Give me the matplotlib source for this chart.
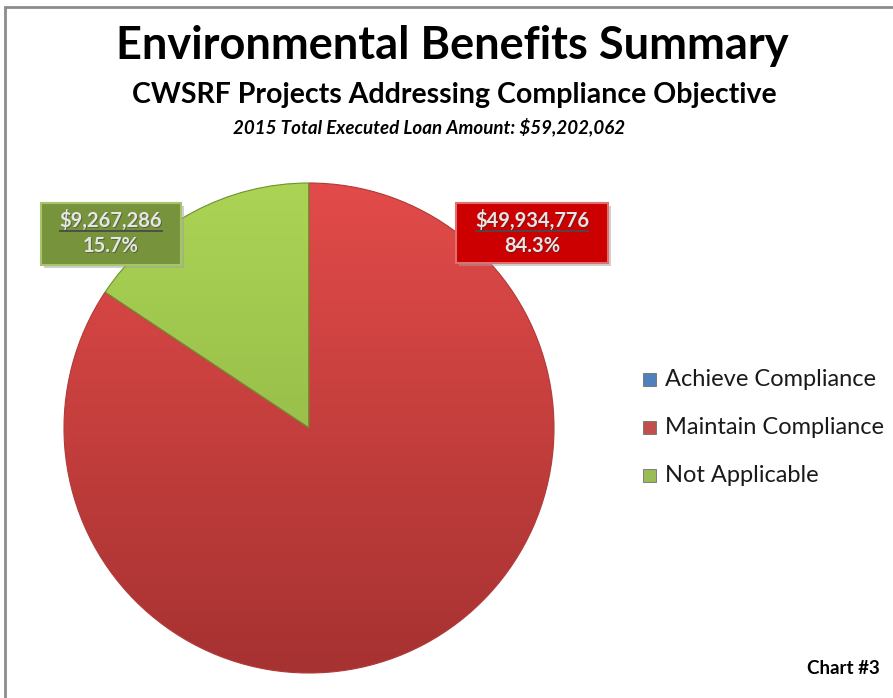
import numpy as np
import matplotlib
matplotlib.use("Agg")
import matplotlib.pyplot as plt
from matplotlib.patches import Rectangle
from matplotlib.lines import Line2D
from matplotlib.colors import LinearSegmentedColormap

# data
categories = ["Achieve Compliance", "Maintain Compliance", "Not Applicable"]
amounts = [0, 49934776, 9267286]
total_label = "$59,202,062"
legend_colors = ["#4F81BD", "#C0504D", "#9BBB59"]
pie_light = ["#6A9AD8", "#E24B49", "#ABD455"]
pie_dark = ["#3A6AA8", "#A63231", "#86AC40"]
pie_edge = ["#3A6AA8", "#B03A38", "#6E9032"]
box_fill = [None, "#CC0000", "#77933C"]
box_edge = [None, "#E07070", "#A6C46A"]

W, H = 893, 698
fig = plt.figure(figsize=(W / 100, H / 100), dpi=100)
fig.patch.set_facecolor("white")

def fx(x):
    return x / W

def fy(y):
    return 1 - y / H

# outer frame
fig.add_artist(Rectangle((fx(5), fy(760)), 2, fy(7) - fy(760), transform=fig.transFigure,
                         fill=False, edgecolor="#8C8C8C", linewidth=2))

font = "Lato"
fig.text(fx(452), fy(46), "Environmental Benefits Summary", ha="center", va="center",
         fontsize=32.5, fontweight="bold", family=font)
fig.text(fx(454), fy(95), "CWSRF Projects Addressing Compliance Objective", ha="center",
         va="center", fontsize=20.5, fontweight="bold", family=font)
fig.text(fx(429), fy(127), "2015 Total Executed Loan Amount: " + total_label, ha="center",
         va="center", fontsize=13.5, fontweight="bold", style="italic", family=font)

# pie
ax = fig.add_axes([fx(64), fy(673), 490 / W, 490 / H])
wedges, _ = ax.pie(amounts, startangle=90, counterclock=False, radius=1,
                   colors=legend_colors,
                   wedgeprops=dict(linewidth=0.8))
yy, xx = np.mgrid[1:-1:300j, -1:1:300j]
grad = (1 - yy) / 2
for i, w in enumerate(wedges):
    if amounts[i] == 0:
        continue
    w.set_edgecolor(pie_edge[i])
    cmap = LinearSegmentedColormap.from_list("g%d" % i, [pie_light[i], pie_dark[i]])
    im = ax.imshow(grad, cmap=cmap, extent=[-1, 1, -1, 1], vmin=0, vmax=1, zorder=0.9)
    im.set_clip_path(w)
    w.set_facecolor("none")
    w.set_zorder(2)
ax.set_xlim(-1, 1)
ax.set_ylim(-1, 1)
ax.set_aspect("equal")
ax.axis("off")

# data labels
label_boxes = {1: (456, 203, 152, 60), 2: (41, 203, 140, 62)}
tot = sum(amounts)
for i, (bx, by, bw, bh) in label_boxes.items():
    fig.add_artist(Rectangle((fx(bx + 3), fy(by + bh + 3)), bw / W, bh / H,
                             transform=fig.transFigure, facecolor="#A0A0A0",
                             edgecolor="none", alpha=0.5))
    fig.add_artist(Rectangle((fx(bx), fy(by + bh)), bw / W, bh / H,
                             transform=fig.transFigure, facecolor=box_fill[i],
                             edgecolor=box_edge[i], linewidth=1.5))
    cx = bx + bw / 2
    amt = "${:,}".format(amounts[i])
    pct = "{:.1f}%".format(100 * amounts[i] / tot)
    for dx, col, a in ((1.0, "#303030", 0.45), (0, "#E6E6E6", 1.0)):
        fig.text(fx(cx + dx), fy(by + 17 + dx), amt, ha="center", va="center", fontsize=14.5,
                 fontweight="bold", color=col, alpha=a, family=font)
        fig.text(fx(cx + dx), fy(by + 43 + dx), pct, ha="center", va="center", fontsize=14.5,
                 fontweight="bold", color=col, alpha=a, family=font)
    half = 5.1 * len(amt)
    fig.add_artist(Line2D([fx(cx - half), fx(cx + half)], [fy(by + 28), fy(by + 28)],
                          transform=fig.transFigure, color="#4A4A4A", linewidth=1.3))

# legend
leg_y = [379, 427, 475]
for i, name in enumerate(categories):
    fig.add_artist(Rectangle((fx(643), fy(leg_y[i] + 7)), 13 / W, 13 / H,
                             transform=fig.transFigure, facecolor=legend_colors[i],
                             edgecolor="#707070", linewidth=0.6))
    fig.text(fx(665), fy(leg_y[i]), name, ha="left", va="center", fontsize=17,
             family=font, color="#1A1A1A")

fig.text(fx(880), fy(668), "Chart #3", ha="right", va="center", fontsize=13.5,
         fontweight="bold", family=font)

fig.savefig("out.png", dpi=100)
